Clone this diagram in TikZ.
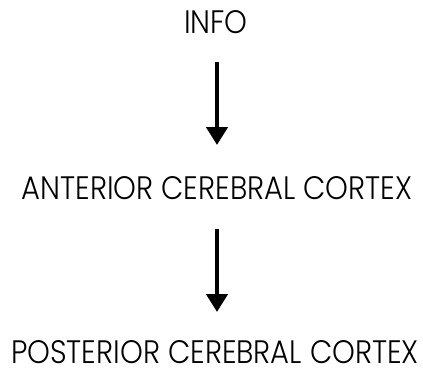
\documentclass[tikz,border=0pt]{standalone}
\usepackage{fontspec}
\setmainfont{Poppins}[UprightFont=* Light]
\usetikzlibrary{arrows.meta}
\newcommand{\tallify}[1]{\scalebox{1}[1.12]{#1}}
\begin{document}
\begin{tikzpicture}[x=1pt,y=-1pt,
  lbl/.style={inner sep=0pt, font=\fontsize{29}{33}\selectfont},
  flow/.style={line width=4.5pt, -{Triangle[length=18pt,width=21pt]}}]
\useasboundingbox (0,0) rectangle (423,368);
\node[lbl, anchor=base] (info) at (216,33) {\tallify{INFO}};
\node[lbl, anchor=base] (ant) at (217,199) {\tallify{ANTERIOR CEREBRAL CORTEX}};
\node[lbl, anchor=base] (post) at (215,363) {\tallify{POSTERIOR CEREBRAL CORTEX}};
\coordinate (a1s) at (217,62);
\coordinate (a1e) at (217,145);
\coordinate (a2s) at (217,229);
\coordinate (a2e) at (217,312);
\draw[flow] (a1s) -- (a1e);
\draw[flow] (a2s) -- (a2e);
\end{tikzpicture}
\end{document}
